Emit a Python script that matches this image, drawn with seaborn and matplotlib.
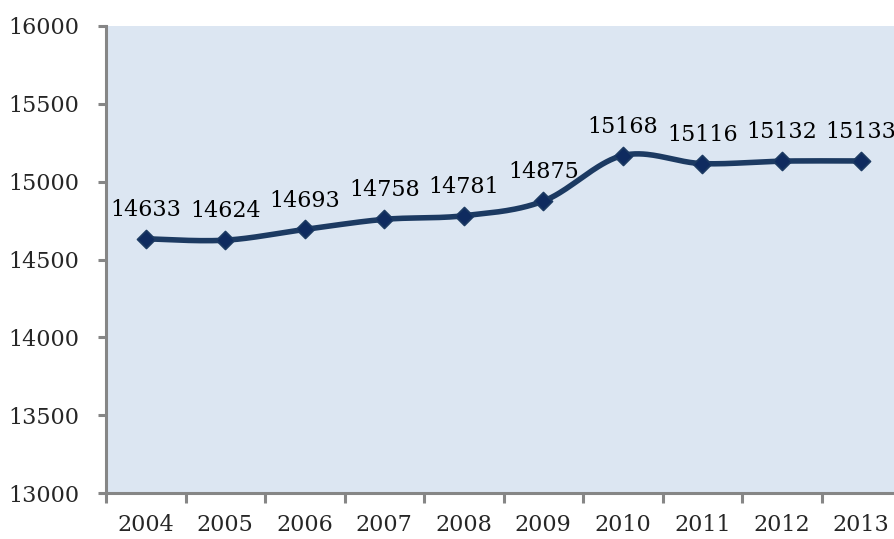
import matplotlib
matplotlib.use('Agg')
import matplotlib.pyplot as plt
from matplotlib.ticker import FixedLocator
import seaborn as sns
import numpy as np
import pandas as pd

# Data
years = ['2004', '2005', '2006', '2007', '2008', '2009', '2010', '2011', '2012', '2013']
values = [14633, 14624, 14693, 14758, 14781, 14875, 15168, 15116, 15132, 15133]
y_ticks = [13000, 13500, 14000, 14500, 15000, 15500, 16000]

LINE_COLOR = '#1C3A62'
MARKER_COLOR = '#0F2B5F'
AXIS_GRAY = '#868686'
BG = '#DCE6F2'


def smooth_curve(x, y, n=40):
    """Excel-style smoothed line (Catmull-Rom as cubic Bezier)."""
    pts = np.column_stack([x, y]).astype(float)
    m = len(pts)
    out = []
    for i in range(m - 1):
        p0 = pts[max(i - 1, 0)]
        p1 = pts[i]
        p2 = pts[i + 1]
        p3 = pts[min(i + 2, m - 1)]
        c1 = p1 + (p2 - p0) / 6.0
        c2 = p2 - (p3 - p1) / 6.0
        t = np.linspace(0, 1, n)[:, None]
        seg = ((1 - t) ** 3) * p1 + 3 * ((1 - t) ** 2) * t * c1 \
            + 3 * (1 - t) * t ** 2 * c2 + t ** 3 * p2
        out.append(seg if i == 0 else seg[1:])
    return np.vstack(out)


sns.set_theme(style='white')
plt.rcParams['font.family'] = ['DejaVu Serif']

df = pd.DataFrame({'pos': np.arange(len(years)), 'year': years, 'value': values})
curve = smooth_curve(df['pos'], df['value'])
curve_df = pd.DataFrame({'x': curve[:, 0], 'y': curve[:, 1]})

fig = plt.figure(figsize=(8.95, 5.39), dpi=100)
ax = fig.add_axes([106 / 895, 46 / 539, 795 / 895, 467 / 539])
ax.set_facecolor(BG)

sns.lineplot(data=curve_df, x='x', y='y', sort=False, color=LINE_COLOR,
             linewidth=4, ax=ax, zorder=3)
sns.scatterplot(data=df, x='pos', y='value', marker='D', s=85,
                color=MARKER_COLOR, edgecolor=LINE_COLOR, linewidth=1.2,
                ax=ax, zorder=4)

for _, r in df.iterrows():
    ax.annotate(f"{r['value']}", (r['pos'], r['value']),
                xytext=(0, 16.5), textcoords='offset points',
                ha='center', va='baseline', fontsize=16, color='black',
                annotation_clip=False)

ax.set_xlim(-0.5, len(years) - 0.5)
ax.set_ylim(13000, 16000)

ax.set_xticks(df['pos'])
ax.set_xticklabels(years, fontsize=16)
ax.xaxis.set_minor_locator(FixedLocator(np.arange(-0.5, len(years), 1.0)))
ax.tick_params(axis='x', which='major', length=0, pad=15)
ax.tick_params(axis='x', which='minor', length=7, width=2.2, color=AXIS_GRAY,
               direction='out', bottom=True)

ax.set_yticks(y_ticks)
ax.set_yticklabels([str(v) for v in y_ticks], fontsize=16)
ax.tick_params(axis='y', which='major', length=6, width=2.2, color=AXIS_GRAY,
               direction='out', left=True, pad=13)

for side in ['top', 'right']:
    ax.spines[side].set_visible(False)
for side in ['left', 'bottom']:
    ax.spines[side].set_color(AXIS_GRAY)
    ax.spines[side].set_linewidth(2.2)

ax.set_xlabel('')
ax.set_ylabel('')
ax.grid(False)

fig.savefig('out.png', dpi=100, facecolor='white')
plt.close(fig)
